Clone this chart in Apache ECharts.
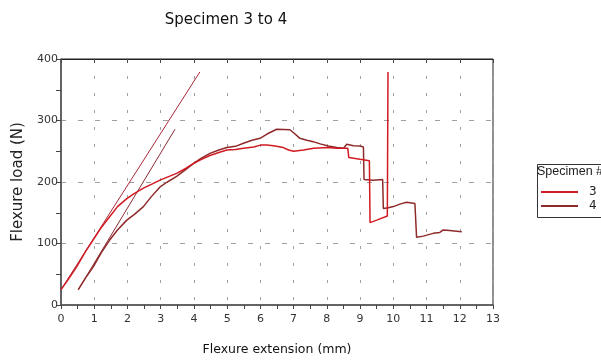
<!DOCTYPE html>
<html>
<head>
<meta charset="utf-8">
<script src="https://cdn.jsdelivr.net/npm/echarts@6/dist/echarts.min.js"></script>
<style>
html,body{margin:0;padding:0;background:#fff;}
#chart{width:601px;height:364px;}
</style>
</head>
<body>
<div id="chart"></div>
<script>
// ---- data ----
const xTicks = [0,1,2,3,4,5,6,7,8,9,10,11,12,13];
const yTicks = [0,100,200,300,400];

const spec3X = [0.00,0.20,0.47,0.75,0.97,1.20,1.47,1.70,1.98,2.20,2.48,2.75,2.98,3.20,3.48,3.75,3.98,4.20,4.48,4.75,4.99,5.25,5.49,5.80,6.00,6.19,6.40,6.69,6.85,7.00,7.30,7.60,8.04,8.30,8.50,8.63,8.66,9.00,9.28,9.30,9.50,9.82,9.84];
const spec3Y = [25,40,62,88,106,125,144,160,173,181,190,197,203,208,214,222,230,236,243,248,252,253,255,257,260,260,259,256,252,250,252,254.7,256,255,254.7,255,240,237,234.7,134,138,144.7,379];

const spec4X = [0.52,0.75,0.97,1.20,1.47,1.70,1.98,2.20,2.48,2.70,2.98,3.20,3.48,3.75,3.98,4.20,4.48,4.75,4.99,5.25,5.49,5.75,5.99,6.20,6.49,6.70,6.89,7.00,7.19,7.40,7.59,7.80,8.04,8.30,8.50,8.55,8.60,8.80,9.00,9.10,9.12,9.40,9.68,9.70,9.85,10.00,10.20,10.40,10.55,10.65,10.70,10.90,11.20,11.40,11.50,11.70,11.90,12.06];
const spec4Y = [25,45,62,84,106,122,138,147,160,175,192,200,209,220,230,238,246.6,252,256,258,263,268,271,278,285.7,285.5,285,280,271,268,265.6,262,258.5,256,254.7,258,261.3,259,258.5,257,204,203,204,157,158,160,164,167,166,165,110,112,116.5,118,122,121,120,119];

// modulus (tangent) lines
const tan3X = [0.00, 4.18];
const tan3Y = [25, 379];
const tan4X = [0.52, 3.43];
const tan4Y = [25, 285.7];

const seriesNames = ['3','4'];
const colors = ['#d11a22','#8f2a2a'];
const tanColors = ['#a8283a','#8a2a34'];

const zip = (xs, ys) => xs.map((x, i) => [x, ys[i]]);

const font = 'DejaVu Sans';
const chart = echarts.init(document.getElementById('chart'), null, {renderer:'canvas'});
chart.setOption({
  animation:false,
  backgroundColor:'#fff',
  title:{
    text:'Specimen 3 to 4',
    left:221, top:8, textAlign:'center',
    textStyle:{fontFamily:font, fontSize:15, fontWeight:'normal', color:'#111'}
  },
  grid:{left:61, right:108, top:59, bottom:59, show:true, borderColor:'#222', borderWidth:1, containLabel:false},
  legend:{
    data:seriesNames,
    orient:'vertical',
    left:536, top:181,
    itemWidth:37, itemHeight:14, itemGap:2,
    textStyle:{fontFamily:font, fontSize:12, color:'#222', padding:[0,0,0,6]},
    icon:'path://M0,0 L10,0 L10,0.6 L0,0.6 Z'
  },
  graphic:[
    {type:'rect', left:535, top:162, shape:{width:80, height:53}, style:{fill:'none', stroke:'#333', lineWidth:1}, silent:true},
    {type:'text', left:537, top:165, style:{text:'Specimen #', fontFamily:'Liberation Sans', fontSize:12.5, fill:'#222'}, silent:true}
  ],
  xAxis:[{
    type:'value', min:0, max:13, interval:1,
    name:'Flexure extension (mm)', nameLocation:'middle', nameGap:38,
    nameTextStyle:{fontFamily:font, fontSize:12.5, color:'#111'},
    axisLine:{show:true, lineStyle:{color:'#555', width:1.5}},
    axisTick:{show:true, length:4, lineStyle:{color:'#444'}},
    minorTick:{show:true, splitNumber:2, length:4, lineStyle:{color:'#444'}},
    axisLabel:{fontFamily:font, fontSize:11, color:'#333', margin:9,
      formatter:v => xTicks.includes(v) ? String(v) : ''},
    splitLine:{show:true, lineStyle:{color:'#a0a0a0', width:1, type:[3,14]}}
  },{
    type:'value', min:0, max:13, interval:1, position:'top',
    axisLine:{show:true, lineStyle:{color:'#222', width:1}},
    axisTick:{show:true, inside:true, length:4, lineStyle:{color:'#444'}},
    axisLabel:{show:false}, splitLine:{show:false}
  }],
  yAxis:[{
    type:'value', min:0, max:400, interval:100,
    name:'Flexure load (N)', nameLocation:'middle', nameGap:24, nameRotate:90,
    nameTextStyle:{fontFamily:font, fontSize:15, color:'#222'},
    axisLine:{show:true, lineStyle:{color:'#555', width:1.5}},
    axisTick:{show:true, length:5, lineStyle:{color:'#444'}},
    minorTick:{show:true, splitNumber:2, length:5, lineStyle:{color:'#444'}},
    axisLabel:{fontFamily:font, fontSize:11, color:'#333', margin:3,
      formatter:v => yTicks.includes(v) ? String(v) : ''},
    splitLine:{show:true, lineStyle:{color:'#a0a0a0', width:1, type:[5,12]}}
  }],
  series:[
    {name:seriesNames[0], type:'line', data:zip(spec3X, spec3Y), symbol:'none', color:colors[0],
     lineStyle:{width:1.5, color:colors[0]}, z:4},
    {name:seriesNames[1], type:'line', data:zip(spec4X, spec4Y), symbol:'none', color:colors[1],
     lineStyle:{width:1.5, color:colors[1]}, z:3},
    {name:'tan3', type:'line', data:zip(tan3X, tan3Y), symbol:'none',
     lineStyle:{width:1, color:tanColors[0]}, z:2},
    {name:'tan4', type:'line', data:zip(tan4X, tan4Y), symbol:'none',
     lineStyle:{width:1, color:tanColors[1]}, z:2}
  ]
});
</script>
</body>
</html>
